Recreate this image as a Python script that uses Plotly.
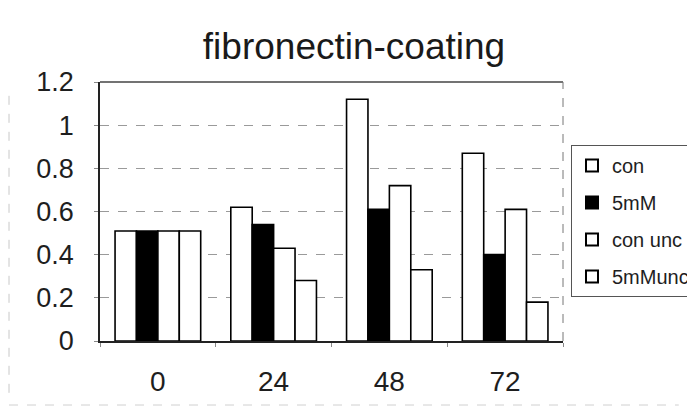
import plotly.graph_objects as go

categories = ["0", "24", "48", "72"]
series_names = ["con", "5mM", "con unc", "5mMunc"]
con = [0.51, 0.62, 1.12, 0.87]
mm5 = [0.51, 0.54, 0.61, 0.40]
con_unc = [0.51, 0.43, 0.72, 0.61]
mm5_unc = [0.51, 0.28, 0.33, 0.18]
y_ticks = [0, 0.2, 0.4, 0.6, 0.8, 1.0, 1.2]
y_tick_labels = ["0", "0.2", "0.4", "0.6", "0.8", "1", "1.2"]

fills = ["white", "black", "white", "white"]
values = [con, mm5, con_unc, mm5_unc]

fig = go.Figure()
for i, (name, vals, fc) in enumerate(zip(series_names, values, fills)):
    fig.add_trace(go.Bar(
        x=categories, y=vals, name=name, legendgroup=name,
        marker=dict(color=fc, line=dict(color="black", width=1.6)),
        hoverinfo="skip",
    ))

# the page body has an 8px margin, so the figure is drawn 8px smaller
W, H = 687, 399
L, T = 92, 74
PW, PH = 463, 259
font_family = "Liberation Sans, Arial, sans-serif"
fig.update_layout(
    width=W, height=H,
    margin=dict(l=L, r=W - L - PW, t=T, b=H - T - PH, autoexpand=False),
    paper_bgcolor="white", plot_bgcolor="white",
    barmode="group", bargap=0.26, bargroupgap=0,
    font=dict(family=font_family, color="#1e1e1e"),
    title=dict(text="fibronectin-coating", x=(354 - 8) / W, xref="container", xanchor="center",
               y=1 - (46 - 8) / H, yref="container", yanchor="middle",
               font=dict(size=37, family=font_family, color="#1a1a1a")),
    showlegend=True,
    legend=dict(x=(571 - 100) / PW, xanchor="left", y=(341 - 145) / PH, yanchor="top",
                bgcolor="white", bordercolor="#555", borderwidth=1,
                font=dict(size=20, family=font_family, color="#1e1e1e"),
                tracegroupgap=8, itemsizing="constant"),
    xaxis=dict(type="category", showgrid=False, showline=True, linecolor="#222", linewidth=1.5,
               ticks="outside", ticklen=4, tickcolor="#888", tickson="boundaries",
               tickfont=dict(size=28), ticklabelstandoff=15, mirror=False),
    yaxis=dict(range=[0, 1.2], tickvals=y_ticks, ticktext=y_tick_labels,
               showgrid=True, gridcolor="#9a9a9a", griddash="dash", gridwidth=1,
               showline=True, linecolor="#222", linewidth=1.5,
               ticks="outside", ticklen=4, tickcolor="#888",
               tickfont=dict(size=27), ticklabelstandoff=15, zeroline=False),
)
# plot area border (top and right), as in Excel
fig.add_shape(type="line", xref="paper", yref="paper", x0=0, x1=1, y0=1, y1=1,
              line=dict(color="#444", width=1.5))
fig.add_shape(type="line", xref="paper", yref="paper", x0=1, x1=1, y0=0, y1=1,
              line=dict(color="#777", width=1, dash="dash"))
# faint scanned chart-area edges
fig.add_shape(type="line", xref="paper", yref="paper", x0=-(L - 1) / PW, x1=-(L - 1) / PW,
              y0=-0.2, y1=(341 - 95) / PH, line=dict(color="#c8c8c8", width=1, dash="dash"))
fig.add_shape(type="line", xref="paper", yref="paper", x0=-(L - 1) / PW, x1=1.25,
              y0=-(405 - 341) / PH, y1=-(405 - 341) / PH, line=dict(color="#d0d0d0", width=1, dash="dash"))

fig.write_html("out.html")
